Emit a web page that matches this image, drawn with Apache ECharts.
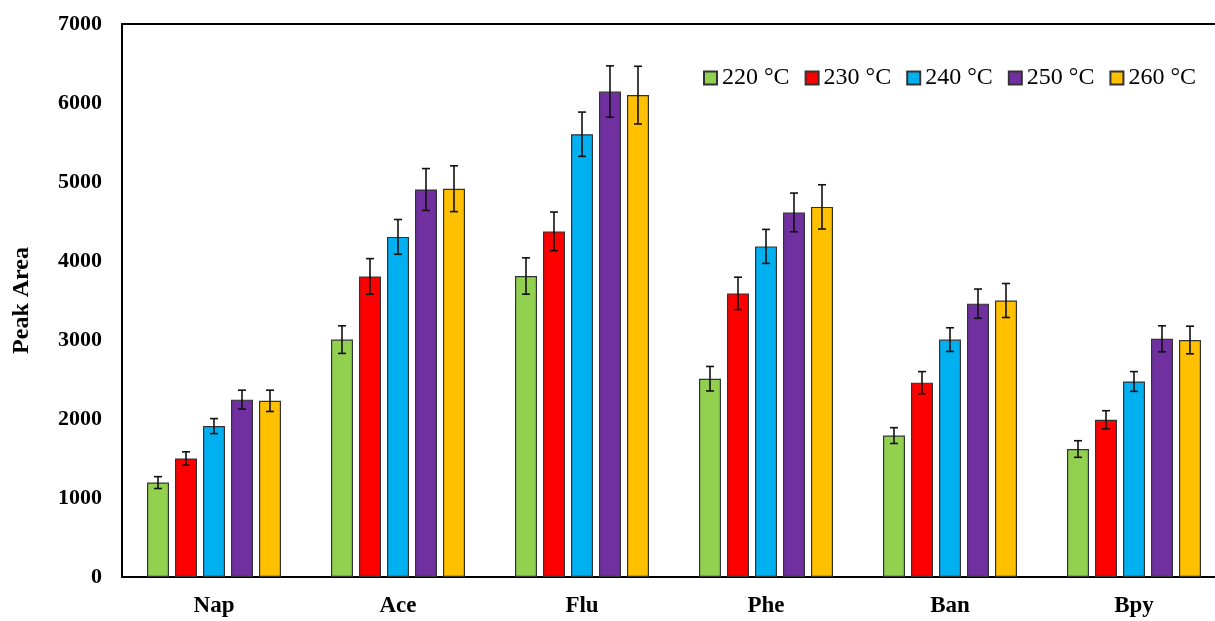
<!DOCTYPE html>
<html>
<head>
<meta charset="utf-8">
<script src="https://cdn.jsdelivr.net/npm/echarts@6/dist/echarts.min.js"></script>
<style>html,body{margin:0;padding:0;background:#fff;}#c{width:1215px;height:621px;}</style>
</head>
<body>
<div id="c"></div>
<script>
const categories = ['Nap', 'Ace', 'Flu', 'Phe', 'Ban', 'Bpy'];
const seriesNames = ['220 °C', '230 °C', '240 °C', '250 °C', '260 °C'];
const values220 = [1195, 3005, 3810, 2510, 1790, 1620];
const values230 = [1500, 3805, 4375, 3590, 2460, 1990];
const values240 = [1910, 4305, 5605, 4185, 3005, 2475];
const values250 = [2245, 4905, 6145, 4615, 3460, 3015];
const values260 = [2230, 4915, 6100, 4685, 3500, 3000];
const err220 = [75, 175, 230, 155, 100, 105];
const err230 = [85, 225, 245, 205, 140, 115];
const err240 = [95, 220, 280, 215, 150, 125];
const err250 = [120, 265, 325, 245, 185, 165];
const err260 = [135, 290, 365, 280, 215, 175];
const yTicks = [0, 1000, 2000, 3000, 4000, 5000, 6000, 7000];

const allValues = [values220, values230, values240, values250, values260];
const allErrs = [err220, err230, err240, err250, err260];
const colors = ['#92D050', '#FF0000', '#00B0F0', '#7030A0', '#FFC000'];

const BAR_W = 22, BAR_GAP = 6;
const font = '"Liberation Serif", "Times New Roman", serif';

const chart = echarts.init(document.getElementById('c'));
const series = [];
seriesNames.forEach((name, i) => {
  series.push({
    name: name,
    type: 'bar',
    data: allValues[i],
    barWidth: BAR_W,
    barGap: (BAR_GAP / BAR_W * 100) + '%',
    itemStyle: { color: colors[i], borderColor: '#333', borderWidth: 1.2 },
    emphasis: { disabled: true }
  });
});
seriesNames.forEach((name, i) => {
  series.push({
    name: name + ' err',
    type: 'custom',
    z: 10,
    data: allValues[i].map((v, k) => [k, v, allErrs[i][k]]),
    renderItem: function (params, api) {
      const k = api.value(0), v = api.value(1), e = api.value(2);
      const off = (i - 2) * (BAR_W + BAR_GAP);
      const top = api.coord([k, v + e]);
      const bot = api.coord([k, v - e]);
      const x = top[0] + off;
      const cap = 4;
      const st = { stroke: '#111', lineWidth: 1.6 };
      return {
        type: 'group',
        children: [
          { type: 'line', shape: { x1: x, y1: top[1], x2: x, y2: bot[1] }, style: st },
          { type: 'line', shape: { x1: x - cap, y1: top[1], x2: x + cap, y2: top[1] }, style: st },
          { type: 'line', shape: { x1: x - cap, y1: bot[1], x2: x + cap, y2: bot[1] }, style: st }
        ]
      };
    }
  });
});

chart.setOption({
  animation: false,
  backgroundColor: '#fff',
  grid: { left: 122, top: 24, width: 1104, bottom: 44, outerBoundsMode: 'none', containLabel: false },
  legend: {
    data: seriesNames,
    left: 703,
    top: 66,
    padding: 0,
    itemWidth: 13,
    itemHeight: 13,
    itemGap: 15,
    icon: 'rect',
    textStyle: { fontFamily: font, fontSize: 24, color: '#000' }
  },
  xAxis: [{
    type: 'category',
    data: categories,
    axisLine: { lineStyle: { color: '#000', width: 2 } },
    axisTick: { show: false },
    axisLabel: { fontFamily: font, fontSize: 23, fontWeight: 'bold', color: '#000', margin: 18 }
  }, {
    type: 'category',
    data: categories,
    position: 'top',
    axisLine: { show: true, lineStyle: { color: '#000', width: 2 } },
    axisTick: { show: false },
    axisLabel: { show: false }
  }],
  yAxis: {
    type: 'value',
    min: yTicks[0],
    max: yTicks[yTicks.length - 1],
    interval: 1000,
    name: 'Peak Area',
    nameLocation: 'middle',
    nameGap: 88,
    nameTextStyle: { fontFamily: font, fontSize: 24, fontWeight: 'bold', color: '#000' },
    axisLine: { show: true, lineStyle: { color: '#000', width: 2 } },
    axisTick: { show: false },
    splitLine: { show: false },
    axisLabel: { fontFamily: font, fontSize: 22, fontWeight: 'bold', color: '#000', margin: 20, formatter: function (v) { return String(v); } }
  },
  series: series
});
</script>
</body>
</html>
